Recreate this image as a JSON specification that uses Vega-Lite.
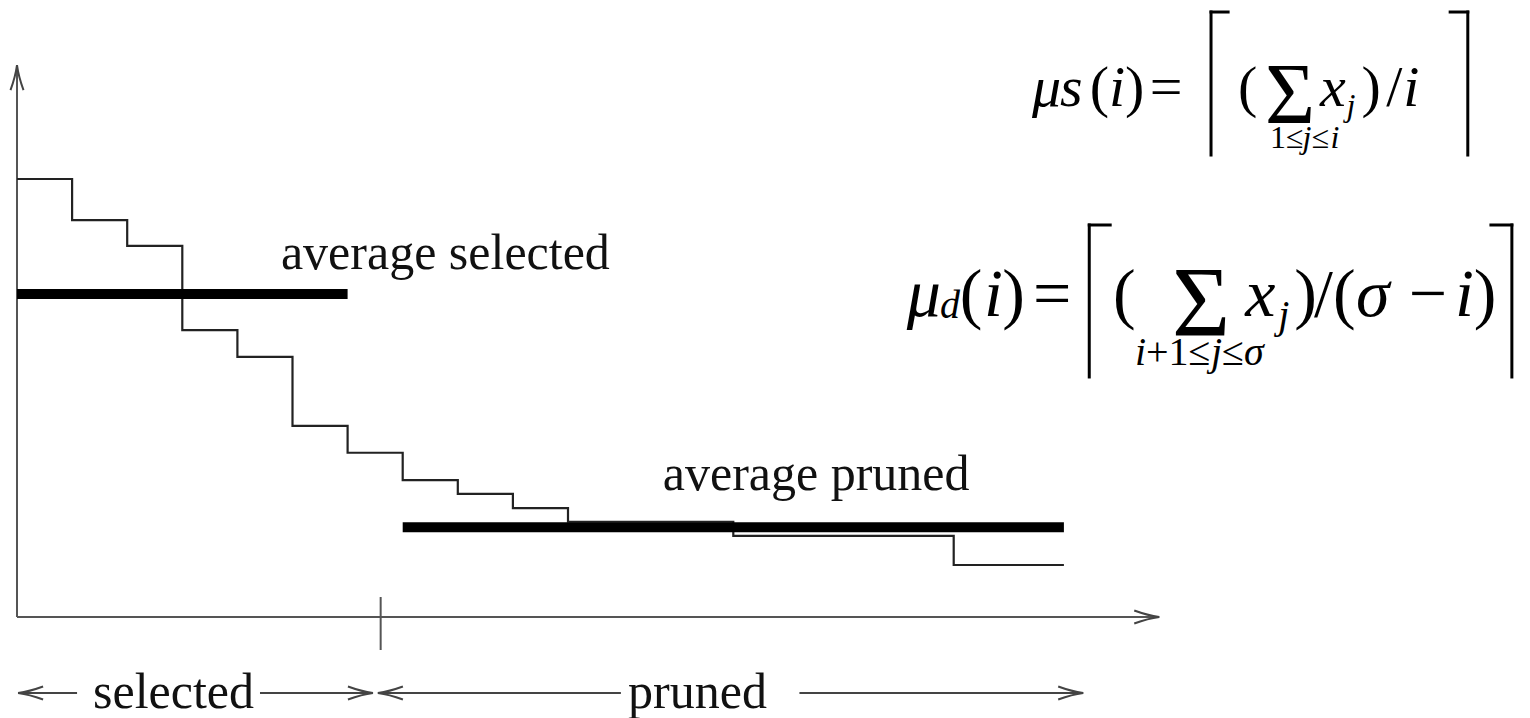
{
  "$schema": "https://vega.github.io/schema/vega-lite/v6.json",
  "width": 1530,
  "height": 718,
  "padding": 0,
  "autosize": {"type": "none"},
  "background": "white",
  "config": {"view": {"stroke": null}},
  "datasets": {
    "items": [
      {"rank": 0, "value": 80}, {"rank": 1, "value": 72.5}, {"rank": 2, "value": 67.8},
      {"rank": 3, "value": 52.4}, {"rank": 4, "value": 47.5}, {"rank": 5, "value": 34.9},
      {"rank": 6, "value": 30}, {"rank": 7, "value": 25}, {"rank": 8, "value": 22.5},
      {"rank": 9, "value": 19.9}, {"rank": 10, "value": 17.4}, {"rank": 11, "value": 17.4},
      {"rank": 12, "value": 17.4}, {"rank": 13, "value": 14.8}, {"rank": 14, "value": 14.8},
      {"rank": 15, "value": 14.8}, {"rank": 16, "value": 14.8}, {"rank": 17, "value": 9.5},
      {"rank": 18, "value": 9.5}, {"rank": 19, "value": 9.5}
    ],
    "averages": [
      {"group": "selected", "x": 0, "x2": 6, "y": 59.0},
      {"group": "pruned", "x": 7, "x2": 19, "y": 16.4}
    ],
    "guides": [
      {"part": "value axis", "x": 0, "x2": 0, "y": 0, "y2": 100.8},
      {"part": "rank axis", "x": 0, "x2": 20.73, "y": 0, "y2": 0},
      {"part": "cut", "x": 6.6, "x2": 6.6, "y": 3.65, "y2": -6.03}
    ],
    "spans": [
      {"x": 0.02, "x2": 1.09, "y": -13.88, "y2": -13.88},
      {"x": 4.41, "x2": 6.46, "y": -13.88, "y2": -13.88},
      {"x": 6.55, "x2": 10.96, "y": -13.88, "y2": -13.88},
      {"x": 14.2, "x2": 19.35, "y": -13.88, "y2": -13.88}
    ],
    "heads": [
      {"x": 0, "y": 100.8, "angle": 270},
      {"x": 20.73, "y": 0, "angle": 0},
      {"x": 0.02, "y": -13.88, "angle": 180},
      {"x": 6.46, "y": -13.88, "angle": 0},
      {"x": 6.55, "y": -13.88, "angle": 180},
      {"x": 19.35, "y": -13.88, "angle": 0}
    ],
    "brackets": [
      {"x": 21.67, "x2": 21.67, "y": 110.5, "y2": 84.38},
      {"x": 21.67, "x2": 21.98, "y": 110.5, "y2": 110.5},
      {"x": 26.33, "x2": 26.33, "y": 110.5, "y2": 84.38},
      {"x": 26.01, "x2": 26.33, "y": 110.5, "y2": 110.5},
      {"x": 19.46, "x2": 19.46, "y": 71.6, "y2": 43.84},
      {"x": 19.46, "x2": 19.84, "y": 71.6, "y2": 71.6},
      {"x": 27.13, "x2": 27.13, "y": 71.6, "y2": 43.84},
      {"x": 26.75, "x2": 27.13, "y": 71.6, "y2": 71.6}
    ],
    "labels": [
      {"text": "average selected", "x": 4.79, "y": 63.56},
      {"text": "average pruned", "x": 11.72, "y": 23.2},
      {"text": "selected", "x": 1.38, "y": -16.62},
      {"text": "pruned", "x": 11.09, "y": -16.62}
    ],
    "formula": [
      {"text": "μ", "x": 18.42, "y": 93.33, "level": "f1", "token": "variable"},
      {"text": "s", "x": 18.93, "y": 93.33, "level": "f1", "token": "variable"},
      {"text": "(", "x": 19.47, "y": 93.33, "level": "f1", "token": "symbol"},
      {"text": "i", "x": 19.82, "y": 93.33, "level": "f1", "token": "variable"},
      {"text": ")", "x": 20.11, "y": 93.33, "level": "f1", "token": "symbol"},
      {"text": "=", "x": 20.56, "y": 93.33, "level": "f1", "token": "symbol"},
      {"text": "(", "x": 22.16, "y": 93.33, "level": "f1", "token": "symbol"},
      {"text": "Σ", "x": 22.65, "y": 90.23, "level": "f1-op", "token": "symbol"},
      {"text": "x", "x": 23.65, "y": 93.33, "level": "f1", "token": "variable"},
      {"text": "j", "x": 24.13, "y": 91.51, "level": "f1-script", "token": "variable"},
      {"text": ")", "x": 24.4, "y": 93.33, "level": "f1", "token": "symbol"},
      {"text": "/", "x": 24.85, "y": 93.33, "level": "f1", "token": "symbol"},
      {"text": "i", "x": 25.16, "y": 93.33, "level": "f1", "token": "variable"},
      {"text": "1≤", "x": 22.74, "y": 85.66, "level": "f1-script", "token": "symbol"},
      {"text": "j", "x": 23.33, "y": 85.66, "level": "f1-script", "token": "variable"},
      {"text": "≤", "x": 23.5, "y": 85.66, "level": "f1-script", "token": "symbol"},
      {"text": "i", "x": 23.84, "y": 85.66, "level": "f1-script", "token": "variable"},

      {"text": "μ", "x": 16.15, "y": 54.98, "level": "f2", "token": "variable"},
      {"text": "d", "x": 16.75, "y": 54.61, "level": "f2-script", "token": "variable"},
      {"text": "(", "x": 17.11, "y": 54.98, "level": "f2", "token": "symbol"},
      {"text": "i", "x": 17.55, "y": 54.98, "level": "f2", "token": "variable"},
      {"text": ")", "x": 17.88, "y": 54.98, "level": "f2", "token": "symbol"},
      {"text": "=", "x": 18.44, "y": 54.98, "level": "f2", "token": "symbol"},
      {"text": "(", "x": 19.89, "y": 54.98, "level": "f2", "token": "symbol"},
      {"text": "Σ", "x": 20.96, "y": 51.51, "level": "f2-op", "token": "symbol"},
      {"text": "x", "x": 22.29, "y": 54.98, "level": "f2", "token": "variable"},
      {"text": "j", "x": 22.89, "y": 52.79, "level": "f2-script", "token": "variable"},
      {"text": ")", "x": 23.18, "y": 54.98, "level": "f2", "token": "symbol"},
      {"text": "/(", "x": 23.54, "y": 54.98, "level": "f2", "token": "symbol"},
      {"text": "σ", "x": 24.3, "y": 54.98, "level": "f2", "token": "variable"},
      {"text": "−", "x": 25.26, "y": 54.98, "level": "f2", "token": "symbol"},
      {"text": "i", "x": 26.1, "y": 54.98, "level": "f2", "token": "variable"},
      {"text": ")", "x": 26.44, "y": 54.98, "level": "f2", "token": "symbol"},
      {"text": "i", "x": 20.29, "y": 46.03, "level": "f2-script", "token": "variable"},
      {"text": "+1≤", "x": 20.49, "y": 46.03, "level": "f2-script", "token": "symbol"},
      {"text": "j", "x": 21.67, "y": 46.03, "level": "f2-script", "token": "variable"},
      {"text": "≤", "x": 21.87, "y": 46.03, "level": "f2-script", "token": "symbol"},
      {"text": "σ", "x": 22.27, "y": 46.03, "level": "f2-script", "token": "variable"}
    ]
  },
  "encoding": {
    "x": {"field": "x", "type": "quantitative", "axis": null,
          "scale": {"domain": [-0.3085, 27.459], "nice": false, "zero": false}},
    "y": {"field": "y", "type": "quantitative", "axis": null,
          "scale": {"domain": [-18.447, 112.694], "nice": false, "zero": false}}
  },
  "layer": [
    {
      "data": {"name": "guides"},
      "mark": {"type": "rule", "stroke": "#555555", "strokeWidth": 2},
      "encoding": {"x2": {"field": "x2"}, "y2": {"field": "y2"}}
    },
    {
      "data": {"name": "spans"},
      "mark": {"type": "rule", "stroke": "#444444", "strokeWidth": 2},
      "encoding": {"x2": {"field": "x2"}, "y2": {"field": "y2"}}
    },
    {
      "data": {"name": "heads"},
      "mark": {"type": "point", "shape": "M -1 -0.26 Q -0.45 -0.06 0 0 Q -0.45 0.06 -1 0.26",
               "filled": false, "stroke": "#444444", "strokeWidth": 2, "size": 2500, "opacity": 1},
      "encoding": {"angle": {"field": "angle", "type": "quantitative", "scale": null}}
    },
    {
      "data": {"name": "items"},
      "mark": {"type": "line", "interpolate": "step-after", "stroke": "#222222", "strokeWidth": 2.2},
      "encoding": {
        "x": {"field": "rank", "type": "quantitative", "axis": null,
              "scale": {"domain": [-0.3085, 27.459], "nice": false, "zero": false}},
        "y": {"field": "value", "type": "quantitative", "axis": null,
              "scale": {"domain": [-18.447, 112.694], "nice": false, "zero": false}}
      }
    },
    {
      "data": {"name": "averages"},
      "mark": {"type": "rule", "stroke": "#000000", "strokeWidth": 10},
      "encoding": {"x2": {"field": "x2"}}
    },
    {
      "data": {"name": "brackets"},
      "mark": {"type": "rule", "stroke": "#000000", "strokeWidth": 3, "strokeCap": "square"},
      "encoding": {"x2": {"field": "x2"}, "y2": {"field": "y2"}}
    },
    {
      "data": {"name": "labels"},
      "mark": {"type": "text", "font": "Liberation Serif", "fontSize": 50, "align": "left",
               "baseline": "alphabetic", "fill": "#111111"},
      "encoding": {"text": {"field": "text"}}
    },
    {
      "data": {"name": "formula"},
      "transform": [{"filter": "datum.level === 'f1' && datum.token === 'symbol'"}],
      "mark": {"type": "text", "font": "Liberation Serif", "fontSize": 58, "align": "left", "baseline": "alphabetic", "fill": "#000000"},
      "encoding": {"text": {"field": "text"}}
    },
    {
      "data": {"name": "formula"},
      "transform": [{"filter": "datum.level === 'f1' && datum.token === 'variable'"}],
      "mark": {"type": "text", "font": "Liberation Serif", "fontStyle": "italic", "fontSize": 58, "align": "left", "baseline": "alphabetic", "fill": "#000000"},
      "encoding": {"text": {"field": "text"}}
    },
    {
      "data": {"name": "formula"},
      "transform": [{"filter": "datum.level === 'f1-script' && datum.token === 'symbol'"}],
      "mark": {"type": "text", "font": "Liberation Serif", "fontSize": 32, "align": "left", "baseline": "alphabetic", "fill": "#000000"},
      "encoding": {"text": {"field": "text"}}
    },
    {
      "data": {"name": "formula"},
      "transform": [{"filter": "datum.level === 'f1-script' && datum.token === 'variable'"}],
      "mark": {"type": "text", "font": "Liberation Serif", "fontStyle": "italic", "fontSize": 32, "align": "left", "baseline": "alphabetic", "fill": "#000000"},
      "encoding": {"text": {"field": "text"}}
    },
    {
      "data": {"name": "formula"},
      "transform": [{"filter": "datum.level === 'f1-op'"}],
      "mark": {"type": "text", "font": "Liberation Serif", "fontSize": 86, "align": "left", "baseline": "alphabetic", "fill": "#000000"},
      "encoding": {"text": {"field": "text"}}
    },
    {
      "data": {"name": "formula"},
      "transform": [{"filter": "datum.level === 'f2' && datum.token === 'symbol'"}],
      "mark": {"type": "text", "font": "Liberation Serif", "fontSize": 68, "align": "left", "baseline": "alphabetic", "fill": "#000000"},
      "encoding": {"text": {"field": "text"}}
    },
    {
      "data": {"name": "formula"},
      "transform": [{"filter": "datum.level === 'f2' && datum.token === 'variable'"}],
      "mark": {"type": "text", "font": "Liberation Serif", "fontStyle": "italic", "fontSize": 68, "align": "left", "baseline": "alphabetic", "fill": "#000000"},
      "encoding": {"text": {"field": "text"}}
    },
    {
      "data": {"name": "formula"},
      "transform": [{"filter": "datum.level === 'f2-script' && datum.token === 'symbol'"}],
      "mark": {"type": "text", "font": "Liberation Serif", "fontSize": 40, "align": "left", "baseline": "alphabetic", "fill": "#000000"},
      "encoding": {"text": {"field": "text"}}
    },
    {
      "data": {"name": "formula"},
      "transform": [{"filter": "datum.level === 'f2-script' && datum.token === 'variable'"}],
      "mark": {"type": "text", "font": "Liberation Serif", "fontStyle": "italic", "fontSize": 40, "align": "left", "baseline": "alphabetic", "fill": "#000000"},
      "encoding": {"text": {"field": "text"}}
    },
    {
      "data": {"name": "formula"},
      "transform": [{"filter": "datum.level === 'f2-op'"}],
      "mark": {"type": "text", "font": "Liberation Serif", "fontSize": 100, "align": "left", "baseline": "alphabetic", "fill": "#000000"},
      "encoding": {"text": {"field": "text"}}
    }
  ]
}
